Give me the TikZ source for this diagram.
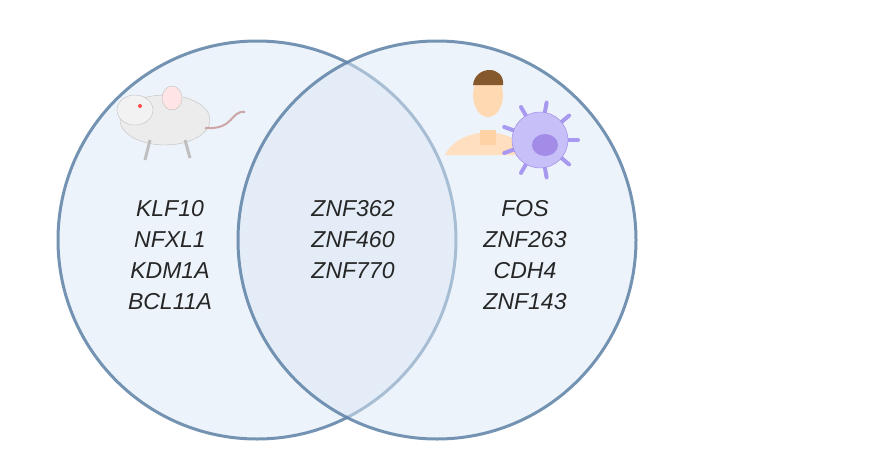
\documentclass[tikz,border=0pt]{standalone}
\usepackage{fontspec}
\setmainfont{Liberation Sans}
\definecolor{stroke}{HTML}{5E82A6}
\definecolor{fillc}{HTML}{DCE8F6}
\begin{document}
\begin{tikzpicture}[x=1pt,y=-1pt,
  setc/.style={draw=stroke, line width=3pt, fill=fillc, fill opacity=0.5, draw opacity=0.85},
  gene/.style={font=\itshape\fontsize{23}{31}\selectfont, align=center, text=black!85}]
\useasboundingbox (0,0) rectangle (896,471);
\fill[white] (0,0) rectangle (896,471);
\node[circle, setc, minimum size=398pt] (L) at (257,240) {};
\node[circle, setc, minimum size=398pt] (R) at (437,240) {};
\node[gene] (g1) at (170,255) {KLF10\\NFXL1\\KDM1A\\BCL11A};
\node[gene] (g2) at (353,240) {ZNF362\\ZNF460\\ZNF770};
\node[gene] (g3) at (525,255) {FOS\\ZNF263\\CDH4\\ZNF143};
% mouse
\begin{scope}
\fill[gray!15, draw=gray!50] (165,120) ellipse (45 and 25);
\fill[gray!10, draw=gray!50] (135,110) ellipse (18 and 15);
\fill[pink!40, draw=gray!50] (172,98) ellipse (10 and 12);
\fill[red!70] (140,106) circle (2);
\draw[pink!60!gray, line width=2pt] (205,128) .. controls (235,130) and (230,110) .. (245,112);
\draw[gray!50, line width=3pt] (150,140) -- (145,160) (185,140) -- (190,158);
\end{scope}
% human
\begin{scope}
\fill[orange!25!white] (445,155) .. controls (460,125) and (515,125) .. (530,155) -- cycle;
\fill[orange!35!white] (480,130) rectangle (496,145);
\fill[orange!30!white] (488,95) ellipse (15 and 22);
\fill[brown!70!black] (473,85) .. controls (475,65) and (505,65) .. (503,85) -- cycle;
\end{scope}
% cell
\begin{scope}
\foreach \a in {0,40,...,320}
  \draw[violet!30!blue!40, line width=4pt, line cap=round] (540,140) -- ++(\a:38);
\fill[violet!25!blue!25, draw=violet!40!blue!50] (540,140) circle (28);
\fill[violet!40!blue!45] (545,145) ellipse (13 and 11);
\end{scope}
\end{tikzpicture}
\end{document}
